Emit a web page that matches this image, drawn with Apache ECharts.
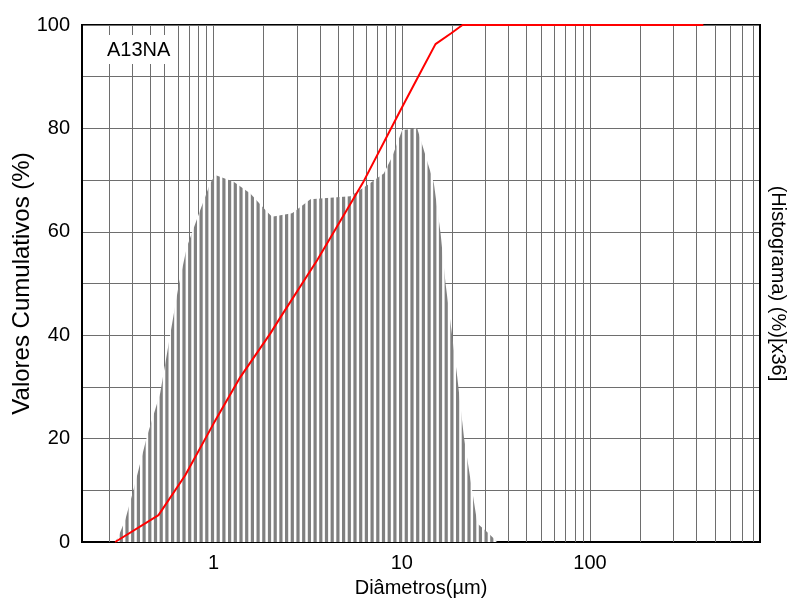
<!DOCTYPE html>
<html>
<head>
<meta charset="utf-8">
<script src="https://cdn.jsdelivr.net/npm/echarts@6/dist/echarts.min.js"></script>
<style>
  html, body { margin: 0; padding: 0; background: #fff; }
  #chart { width: 791px; height: 603px; }
</style>
</head>
<body>
<div id="chart"></div>
<script>
// Sample name
const sampleName = 'A13NA';

// Cumulative distribution (%), diameter in µm
const cumDiam = [0.3, 0.51, 0.707, 1.0, 1.387, 2.0, 2.27, 3.55, 6.28, 9.84, 12.1, 15.1, 18.3, 21, 400];
const cumPct  = [0,   5.2,  12.9,  22.9, 31.9, 40.3, 43.5, 54.5, 69.8, 83.5, 89.7, 96.3, 98.4, 100, 100];

// Frequency histogram (scaled x36), diameter in µm
const histDiam = [0.3, 0.312, 0.339, 0.375, 0.442, 0.52, 0.588, 0.651, 0.722, 0.85, 0.96, 1.02,
                  1.278, 1.568, 1.923, 2.045, 2.612, 2.893, 3.27, 5.33, 6.54, 8.02, 8.89, 10.05,
                  12.08, 13.09, 14.8, 16.07, 17.08, 18.16, 19.71, 21.38, 23.2, 25.2, 28.5, 32.2, 400];
const histVal  = [0, 1.0, 4.2, 10.0, 20.3, 28.7, 40.0, 49.4, 57.1, 64.2, 69.4, 71.0,
                  69.7, 67.4, 63.9, 62.9, 63.6, 64.8, 66.3, 66.9, 69.0, 71.3, 74.5, 79.7,
                  80.0, 75.8, 69.4, 59.7, 50.0, 42.3, 31.9, 20.3, 11.9, 3.6, 1.9, 0, 0];

// Axis ranges and ticks
const xMin = 0.2, xMax = 800;
const yMin = 0, yMax = 100, yStep = 10, yLabelStep = 20;

// Sub-decade grid lines of the diameter axis
const subGridValues = [0.3, 0.4, 0.5, 0.6, 0.7, 0.8, 0.9, 1,
                       2, 3, 4, 5, 6, 7, 8, 9, 10,
                       20, 30, 40, 50, 60, 70, 80, 90, 100,
                       200, 300, 400, 500, 600, 700, 800, 900];
// the plotting software draws its sub-decade grid slightly left of the nominal values
const SUB_GRID_SHIFT = 0.922;

const FONT = 'Liberation Sans, Arial, sans-serif';
const GRID_COLOR = '#6e6e6e';

// vertical stripe fill for the histogram
function stripePattern() {
  const c = document.createElement('canvas');
  const period = 5.7, n = 10;
  c.width = Math.round(period * n);
  c.height = 4;
  const g = c.getContext('2d');
  g.fillStyle = '#ffffff';
  g.fillRect(0, 0, c.width, c.height);
  g.fillStyle = '#808080';
  for (let i = 0; i < n; i++) {
    g.fillRect(i * period, 0, 3.2, c.height);
  }
  return c;
}

const chart = echarts.init(document.getElementById('chart'), null, { renderer: 'canvas' });

const option = {
  backgroundColor: '#ffffff',
  animation: false,
  title: {
    text: sampleName,
    left: 104,
    top: 35,
    padding: [5, 3, 4, 3],
    backgroundColor: '#ffffff',
    textStyle: { fontFamily: FONT, fontSize: 20, fontWeight: 'normal', color: '#000' }
  },
  grid: {
    left: 82, right: 31, top: 25, bottom: 61,
    containLabel: false,
    outerBoundsMode: 'none',
    show: true, borderColor: '#000', borderWidth: 2, backgroundColor: '#fff'
  },
  xAxis: {
    type: 'log',
    logBase: 10,
    min: xMin,
    max: xMax,
    name: 'Diâmetros(µm)',
    nameLocation: 'middle',
    nameGap: 36,
    nameMoveOverlap: false,
    nameTextStyle: { fontFamily: FONT, fontSize: 20, color: '#000' },
    axisLine: { show: true, lineStyle: { color: '#000', width: 2 } },
    axisTick: { show: false },
    axisLabel: {
      fontFamily: FONT, fontSize: 20, color: '#000', margin: 11,
      showMinLabel: false, showMaxLabel: false
    },
    splitLine: { show: true, lineStyle: { color: GRID_COLOR, width: 1 } }
  },
  yAxis: [
    {
      type: 'value',
      min: yMin, max: yMax, interval: yStep,
      name: 'Valores Cumulativos (%)',
      nameLocation: 'middle',
      nameGap: 48,
      nameMoveOverlap: false,
      nameTextStyle: { fontFamily: FONT, fontSize: 24, color: '#000' },
      axisLine: { show: true, lineStyle: { color: '#000', width: 2 } },
      axisTick: { show: false },
      axisLabel: {
        fontFamily: FONT, fontSize: 20, color: '#000', margin: 12,
        formatter: v => (v % yLabelStep === 0 ? String(v) : '')
      },
      splitLine: { show: true, lineStyle: { color: GRID_COLOR, width: 1 } }
    },
    {
      type: 'value',
      position: 'right',
      min: yMin, max: yMax, interval: yStep,
      name: '(Histograma) (%)[x36]',
      nameLocation: 'middle',
      nameGap: 8,
      nameRotate: -90,
      nameMoveOverlap: false,
      nameTextStyle: { fontFamily: FONT, fontSize: 20, color: '#000' },
      axisLine: { show: true, lineStyle: { color: '#000', width: 2 } },
      axisTick: { show: false },
      axisLabel: { show: false },
      splitLine: { show: false }
    }
  ],
  series: [
    {
      // sub-decade grid lines
      type: 'line',
      data: [],
      z: 1,
      silent: true,
      markLine: {
        silent: true,
        z: 1,
        symbol: ['none', 'none'],
        label: { show: false },
        lineStyle: { color: GRID_COLOR, width: 1, type: 'solid' },
        data: subGridValues.map(v => ({ xAxis: v * SUB_GRID_SHIFT }))
      }
    },
    {
      name: 'Histograma',
      type: 'line',
      yAxisIndex: 1,
      z: 3,
      symbol: 'none',
      data: histDiam.map((d, i) => [d, histVal[i]]),
      lineStyle: { width: 0, opacity: 0 },
      areaStyle: { color: { image: stripePattern(), repeat: 'repeat' }, opacity: 1 }
    },
    {
      name: 'Valores Cumulativos',
      type: 'line',
      yAxisIndex: 0,
      z: 5,
      clip: false,
      symbol: 'none',
      data: cumDiam.map((d, i) => [d, cumPct[i]]),
      lineStyle: { color: '#ff0000', width: 2 }
    }
  ]
};

chart.setOption(option);
</script>
</body>
</html>
